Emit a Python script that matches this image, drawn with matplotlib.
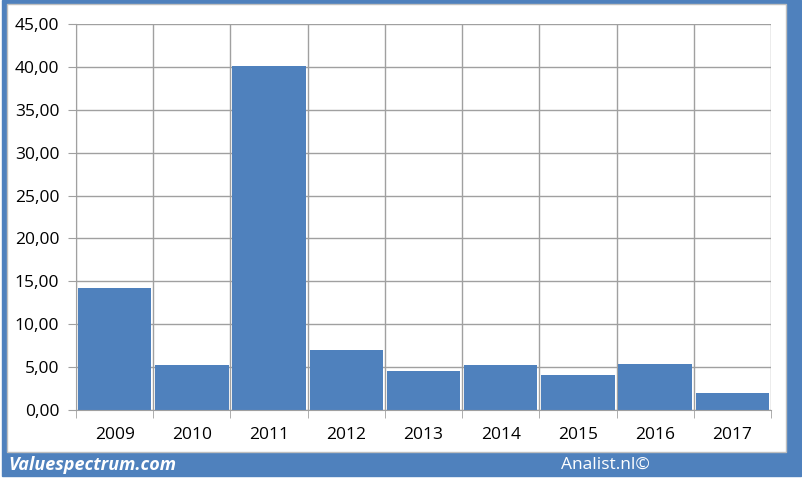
import matplotlib.pyplot as plt
from matplotlib.patches import Rectangle
import numpy as np

years  = ['2009', '2010', '2011', '2012', '2013', '2014', '2015', '2016', '2017']
values = [14.2, 5.2, 40.1, 7.0, 4.5, 5.2, 4.1, 5.35, 2.0]
yticks = np.arange(0, 46, 5)

W, H = 803, 479
fig = plt.figure(figsize=(W/100, H/100), dpi=100)
fig.patch.set_facecolor('white')

blue = '#4F81BD'
# blue frame and white inner panel (pixel coords -> figure fractions)
fig.patches.append(Rectangle((2/W, 1 - 476/H), 799/W, 476/H,
                             transform=fig.transFigure, color=blue, zorder=-2))
fig.patches.append(Rectangle((7/W, 1 - 452/H), 779/W, 448/H,
                             transform=fig.transFigure, facecolor='white',
                             edgecolor='#BFBFBF', lw=1, zorder=-1))

ax = fig.add_axes([76/W, 1 - 410/H, 695/W, 386/H])
ax.set_facecolor('none')
x = np.arange(len(years))
ax.bar(x, values, width=0.95, color=blue, zorder=2)

ax.set_xlim(-0.5, len(years) - 0.5)
ax.set_ylim(0, 45)
ax.set_yticks(yticks)
ax.set_yticklabels(['%d,00' % v for v in yticks], fontsize=12.5, family='Open Sans')
ax.set_xticks(x)
ax.set_xticklabels(years, fontsize=12.5, family='Open Sans')
ax.set_xticks(np.arange(-0.5, len(years)), minor=True)

ax.grid(axis='y', color='#A0A0A0', lw=1, zorder=1)
ax.grid(axis='x', which='minor', color='#A0A0A0', lw=1, zorder=1)
ax.tick_params(axis='x', which='major', length=0, pad=12)
ax.tick_params(axis='x', which='minor', length=6, color='#A0A0A0')
ax.tick_params(axis='y', length=6, color='#A0A0A0', pad=6)
for s in ['top', 'right']:
    ax.spines[s].set_visible(False)
ax.spines['left'].set_color('#A0A0A0')
ax.spines['bottom'].set_color('#A0A0A0')

fig.text(8/W, 1 - 465/H, 'Valuespectrum.com', color='white', fontsize=13,
         fontweight='bold', fontstyle='italic', family='Open Sans', va='center')
fig.text(605/W, 1 - 465/H, 'Analist.nl\u00a9', color='white', fontsize=12.5,
         family='Open Sans', va='center', ha='center')

fig.savefig('out.png', dpi=100)
